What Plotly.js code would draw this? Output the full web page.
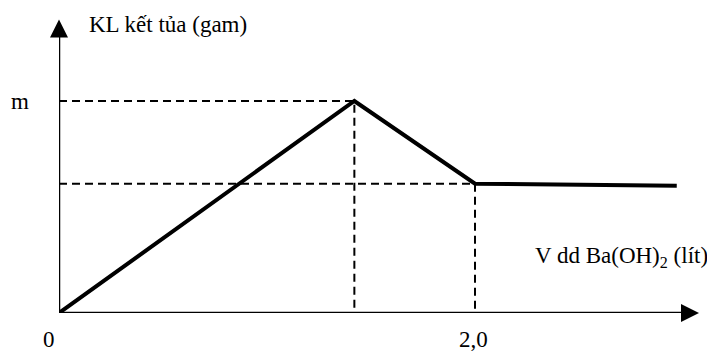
<!DOCTYPE html>
<html>
<head>
<meta charset="utf-8">
<script src="https://cdn.plot.ly/plotly-3.0.1.min.js"></script>
<style>html,body{margin:0;padding:0;background:#fff;}#chart{width:707px;height:353px;}</style>
</head>
<body>
<div id="chart"></div>
<script>
// Data
const volume = [0, 1.42, 2.0, 2.97];      // V dd Ba(OH)2 (lít)
const mass   = [0, 1.0, 0.61, 0.60];      // KL kết tủa (m = 1)
const xTickVals = [0, 2.0];
const xTickText = ["0", "2,0"];
const yTickVals = [1.0];
const yTickText = ["m"];
const xAxisEnd = 3.077;
const yAxisEnd = 1.385;

const FONT = "'Liberation Serif', 'Times New Roman', serif";
const FSIZE = 23;

const dash = {color: "black", width: 2, dash: "8px,5px"};
const traces = [
  // guide lines through the peak
  {x: [0, volume[1], volume[1]], y: [mass[1], mass[1], 0], mode: "lines", line: dash, hoverinfo: "skip"},
  // guide lines through the lower point
  {x: [0, volume[2], volume[2]], y: [mass[2], mass[2], 0], mode: "lines", line: dash, hoverinfo: "skip"},
  // axis lines
  {x: [0, xAxisEnd - 0.03], y: [0, 0], mode: "lines", line: {color: "black", width: 2.5}, hoverinfo: "skip", cliponaxis: false},
  {x: [0, 0], y: [0, yAxisEnd - 0.03], mode: "lines", line: {color: "black", width: 2.5}, hoverinfo: "skip", cliponaxis: false},
  // arrowheads
  {x: [xAxisEnd, 0], y: [0, yAxisEnd], mode: "markers", cliponaxis: false, hoverinfo: "skip",
   marker: {symbol: ["arrow-right", "arrow-up"], size: 18, color: "black", line: {width: 0}}},
  // main curve
  {x: volume, y: mass, mode: "lines", line: {color: "black", width: 4}, hoverinfo: "skip", cliponaxis: false}
];

const annotations = [
  {xref: "paper", yref: "paper", x: (87 - 59) / 648, y: (313 - 24) / 313, xanchor: "left", yanchor: "middle",
   text: "KL kết tủa (gam)", showarrow: false, font: {family: FONT, size: FSIZE, color: "black"}},
  {xref: "paper", yref: "paper", x: (533 - 59) / 648, y: (313 - 257) / 313, xanchor: "left", yanchor: "middle",
   text: "V dd Ba(OH)<sub>2</sub> (lít)", showarrow: false, font: {family: FONT, size: FSIZE, color: "black"}}
];
// tick labels
xTickVals.forEach((v, i) => {
  annotations.push({x: v, xref: "x", yref: "paper", y: -27 / 313, xanchor: "center", yanchor: "middle",
    xshift: i === 0 ? -10 : -2, text: xTickText[i], showarrow: false, font: {family: FONT, size: FSIZE, color: "black"}});
});
yTickVals.forEach((v, i) => {
  annotations.push({x: (20 - 59) / 648, xref: "paper", y: v, yref: "y", xanchor: "center", yanchor: "middle",
    yshift: 0, text: yTickText[i], showarrow: false, font: {family: FONT, size: FSIZE, color: "black"}});
});

const layout = {
  width: 707, height: 353,
  margin: {l: 59, r: 0, t: 0, b: 40, pad: 0},
  paper_bgcolor: "white", plot_bgcolor: "white",
  showlegend: false,
  xaxis: {range: [0, 648 / 208], showgrid: false, zeroline: false, showline: false, showticklabels: false, ticks: "", fixedrange: true},
  yaxis: {range: [0, 313 / 212], showgrid: false, zeroline: false, showline: false, showticklabels: false, ticks: "", fixedrange: true},
  annotations: annotations
};

Plotly.newPlot("chart", traces, layout, {staticPlot: true, displayModeBar: false});
</script>
</body>
</html>
